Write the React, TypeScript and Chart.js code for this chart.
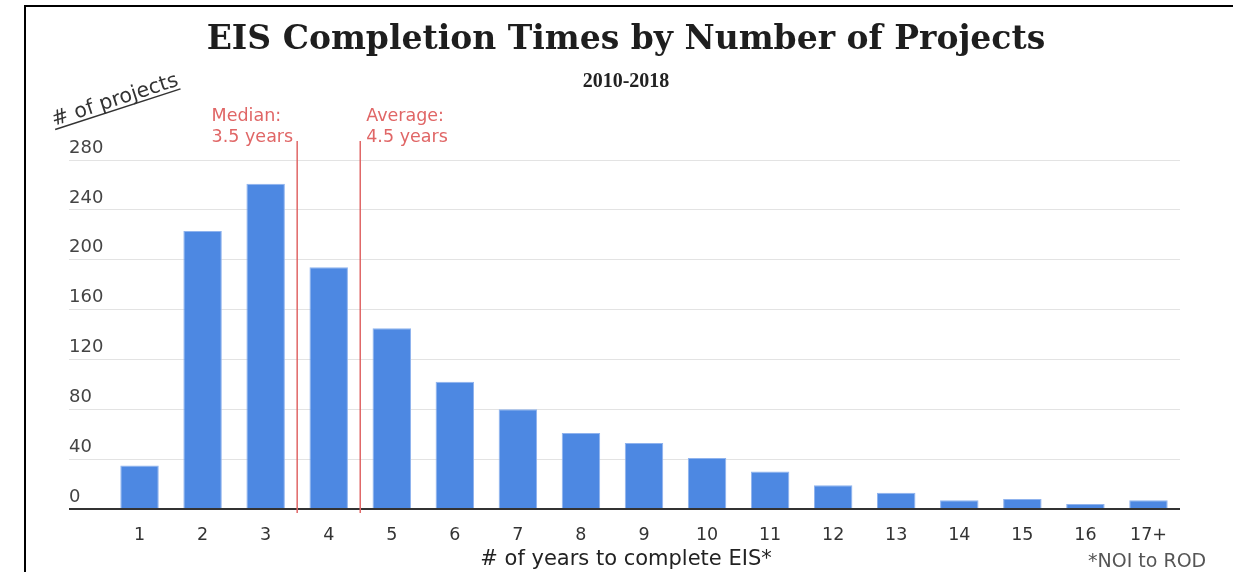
import React, { useEffect, useRef } from 'react';
import { Chart, registerables } from 'chart.js';

Chart.register(...registerables);

// ---- data ----
const categories = ['1', '2', '3', '4', '5', '6', '7', '8', '9', '10', '11', '12', '13', '14', '15', '16', '17+'];
const projectCounts = [35, 223, 261, 194, 145, 102, 80, 61, 53, 41, 30, 19, 13, 7, 8, 4, 7];
const yMin = 0;
const yMax = 280;
const yStep = 40;
const medianYears = 3.5;
const averageYears = 4.5;
const medianLabel = ['Median:', '3.5 years'];
const averageLabel = ['Average:', '4.5 years'];
const titleText = 'EIS Completion Times by Number of Projects';
const subtitleText = '2010-2018';
const yAxisLabel = '# of projects';
const xAxisLabel = '# of years to complete EIS*';
const footnoteText = '*NOI to ROD';

const SANS = '"DejaVu Sans", sans-serif';
const RED = '#e06666';

// category "1" sits at index 0
const yearsToIndex = (years: number) => years - 1;

const decorPlugin = {
  id: 'decor',
  beforeDraw(chart: any) {
    const { ctx, width, height } = chart;
    ctx.save();
    ctx.fillStyle = '#ffffff';
    ctx.fillRect(0, 0, width, height);
    ctx.fillStyle = '#000000';
    ctx.fillRect(24, 5, width - 24, 2);
    ctx.fillRect(24, 5, 2, height - 5);
    ctx.restore();
  },
  afterDatasetsDraw(chart: any) {
    const { ctx, chartArea } = chart;
    const x = chart.scales.x;
    ctx.save();
    ctx.strokeStyle = RED;
    ctx.lineWidth = 1.5;
    [medianYears, averageYears].forEach((v) => {
      const px = x.getPixelForValue(yearsToIndex(v));
      ctx.beginPath();
      ctx.moveTo(px, chartArea.top - 19);
      ctx.lineTo(px, chartArea.bottom + 4);
      ctx.stroke();
    });
    ctx.restore();
  },
  afterDraw(chart: any) {
    const { ctx, chartArea } = chart;
    const x = chart.scales.x;
    const cx = 626;
    ctx.save();
    // title
    ctx.fillStyle = '#1e1e1e';
    ctx.textAlign = 'center';
    ctx.textBaseline = 'alphabetic';
    ctx.font = 'bold 33px "DejaVu Serif", serif';
    ctx.fillText(titleText, cx, 49);
    ctx.font = 'bold 20px "Liberation Serif", serif';
    ctx.fillStyle = '#222222';
    ctx.fillText(subtitleText, cx, 87);

    // annotations
    ctx.font = `17.5px ${SANS}`;
    ctx.fillStyle = RED;
    ctx.textAlign = 'left';
    ctx.textBaseline = 'middle';
    const mx = x.getPixelForValue(yearsToIndex(medianYears));
    const mw = Math.max(...medianLabel.map((t) => ctx.measureText(t).width));
    medianLabel.forEach((t, i) => ctx.fillText(t, mx - 4 - mw, chartArea.top - 44 + i * 21));
    const ax = x.getPixelForValue(yearsToIndex(averageYears));
    averageLabel.forEach((t, i) => ctx.fillText(t, ax + 6, chartArea.top - 44 + i * 21));

    // y axis label (rotated, underlined)
    ctx.save();
    ctx.translate(54, 126);
    ctx.rotate((-18 * Math.PI) / 180);
    ctx.font = `20.5px ${SANS}`;
    ctx.fillStyle = '#333333';
    ctx.textAlign = 'left';
    ctx.textBaseline = 'alphabetic';
    ctx.fillText(yAxisLabel, 0, 0);
    const w = ctx.measureText(yAxisLabel).width;
    ctx.fillRect(0, 3, w, 1.5);
    ctx.restore();

    // x axis title
    ctx.font = `21px ${SANS}`;
    ctx.fillStyle = '#222222';
    ctx.textAlign = 'center';
    ctx.textBaseline = 'middle';
    ctx.fillText(xAxisLabel, cx, 560);

    // footnote
    ctx.font = `19px ${SANS}`;
    ctx.fillStyle = '#555555';
    ctx.textAlign = 'left';
    ctx.fillText(footnoteText, 1088, 562);
    ctx.restore();
  },
};

export default function App() {
  const canvasRef = useRef<HTMLCanvasElement | null>(null);

  useEffect(() => {
    if (!canvasRef.current) return;
    const chart = new Chart(canvasRef.current, {
      type: 'bar',
      data: {
        labels: categories,
        datasets: [
          {
            data: projectCounts,
            backgroundColor: '#4d88e2',
            borderColor: '#8fb3ee',
            borderWidth: 1,
            barPercentage: 0.61,
            categoryPercentage: 1,
          },
        ],
      },
      options: {
        animation: false,
        responsive: false,
        maintainAspectRatio: false,
        layout: { padding: { left: 69, right: 53, top: 160, bottom: 0 } },
        plugins: {
          legend: { display: false },
          title: { display: false },
          tooltip: { enabled: false },
        },
        scales: {
          x: {
            offset: true,
            grid: { display: false },
            border: { display: false },
            ticks: {
              color: '#333333',
              font: { family: SANS, size: 17.5 },
              padding: 8,
              maxRotation: 0,
            },
            afterFit: (s: any) => {
              s.height = 63;
            },
          },
          y: {
            min: yMin,
            max: yMax,
            border: { display: false },
            grid: {
              color: (c: any) => (c.tick && c.tick.value === 0 ? '#333333' : '#e3e3e3'),
              lineWidth: (c: any) => (c.tick && c.tick.value === 0 ? 2 : 1),
              drawTicks: true,
              tickLength: 39,
            },
            ticks: {
              stepSize: yStep,
              color: '#444444',
              font: { family: SANS, size: 18 },
              crossAlign: 'far',
              labelOffset: -12,
            },
            afterFit: (s: any) => {
              s.width = 39;
            },
          },
        },
      },
      plugins: [decorPlugin],
    });
    return () => chart.destroy();
  }, []);

  return (
    <div style={{ position: 'absolute', left: 0, top: 0, width: 1233, height: 572 }}>
      <canvas ref={canvasRef} width={1233} height={572} style={{ width: 1233, height: 572 }} />
    </div>
  );
}
